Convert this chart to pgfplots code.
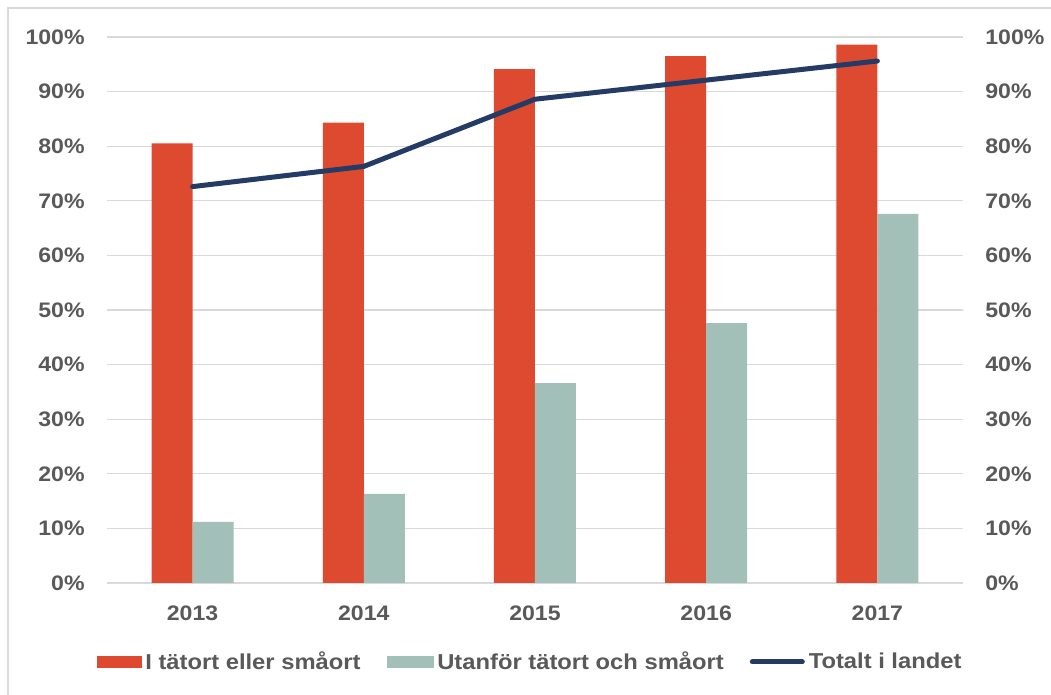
\documentclass[border=0pt]{standalone}
\usepackage{fontspec}
\setmainfont{Liberation Sans}[FakeStretch=1.1]
\usepackage{pgfplots}
\pgfplotsset{compat=1.18}
\definecolor{cRed}{HTML}{DD4A2F}
\definecolor{cTeal}{HTML}{A2C0B8}
\definecolor{cNavy}{HTML}{243B66}
\definecolor{textgray}{HTML}{595959}
\definecolor{gridgray}{HTML}{D9D9D9}

\pgfplotsset{
  base/.style={
    width=428pt, height=273pt, scale only axis,
    xmin=-0.5, xmax=4.5, ymin=0, ymax=100,
    ytick={0,10,...,100},
    axis line style={draw=none}, major tick length=0pt,
    /pgf/number format/assume math mode=true,
    tick label style={font=\fontsize{10.5}{12}\selectfont\bfseries, text=textgray, inner sep=0pt},
    yticklabel={\pgfmathprintnumber{\tick}\%},
    yticklabel shift=11pt, xticklabel shift=11pt,
  },
  redleg/.style={legend image code/.code={\fill[cRed] (0pt,-2.6pt) rectangle (22pt,2.6pt);}},
  tealleg/.style={legend image code/.code={\fill[cTeal] (0pt,-2.6pt) rectangle (23pt,2.6pt);}},
}

\begin{document}
\begin{tikzpicture}
\useasboundingbox (-53.5pt,-56pt) rectangle (472pt,291.5pt);
\draw[gridgray, line width=0.8pt] (-49.5pt,-56pt) -- (-49.5pt,287.5pt) -- (472pt,287.5pt);

\begin{axis}[base,
  xtick={0,...,4}, xticklabels={2013,2014,2015,2016,2017},
  ymajorgrids, grid style={gridgray, line width=0.6pt},
  ybar=0pt, bar width=20.5pt,
]
\addplot[fill=cRed, draw=none] coordinates {(0,80.5) (1,84.3) (2,94.1) (3,96.5) (4,98.6)};
\addplot[fill=cTeal, draw=none] coordinates {(0,11.2) (1,16.3) (2,36.6) (3,47.6) (4,67.6)};
\end{axis}

\begin{axis}[base,
  xtick=\empty, yticklabel pos=right,
  yticklabel style={anchor=west},
  legend columns=3,
  legend style={at={(0.5,0)}, anchor=center, yshift=-39.5pt, xshift=-2pt,
    draw=none, fill=none, font=\fontsize{10.8}{12}\selectfont\bfseries, text=textgray,
    nodes={inner sep=2pt},
    /tikz/every even column/.append style={column sep=11pt}},
]
\addlegendimage{redleg}
\addlegendentry{I tätort eller småort}
\addlegendimage{tealleg}
\addlegendentry{Utanför tätort och småort}
\addplot[cNavy, line width=2.5pt, line cap=round, line join=round,
  legend image code/.code={\draw[cNavy, line width=2.5pt, line cap=round] (0pt,0pt) -- (25pt,0pt);}]
  coordinates {(0,72.6) (1,76.3) (2,88.6) (3,92.1) (4,95.6)};
\addlegendentry{Totalt i landet}
\end{axis}
\end{tikzpicture}
\end{document}
